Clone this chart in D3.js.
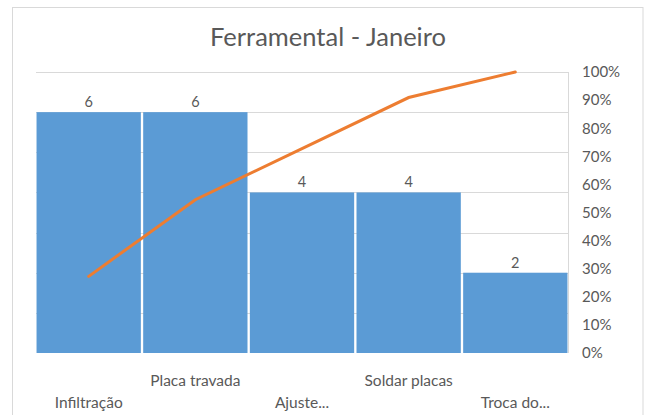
<!DOCTYPE html>
<html>
<head>
<meta charset="utf-8">
<script src="https://cdn.jsdelivr.net/npm/d3@7"></script>
<style>
  html, body { margin: 0; padding: 0; background: #fff; }
  svg { display: block; font-family: Lato, "Open Sans", sans-serif; }
</style>
</head>
<body>
<svg id="chart" width="646" height="415"></svg>
<script>
// Pareto data: occurrence counts per cause, sorted descending
const categories = ["Infiltração", "Placa travada", "Ajuste...", "Soldar placas", "Troca do..."];
const counts = [6, 6, 4, 4, 2];
const percentTicks = [0, 0.1, 0.2, 0.3, 0.4, 0.5, 0.6, 0.7, 0.8, 0.9, 1.0];
const countTicks = [1, 2, 3, 4, 5, 6, 7];
const title = "Ferramental - Janeiro";

const total = d3.sum(counts);
const cumulative = d3.cumsum(counts).map(v => v / total);

const svg = d3.select("#chart");
const W = 646, H = 415;
const plot = { left: 36, right: 568, top: 72, bottom: 353 };
const textColor = "#595959";

// chart frame
svg.append("rect")
  .attr("x", 12.5).attr("y", 7.5)
  .attr("width", 630.5).attr("height", H)
  .attr("fill", "#fff")
  .attr("stroke", "#d9d9d9").attr("stroke-width", 1);

const x = d3.scaleBand()
  .domain(categories)
  .range([plot.left, plot.right])
  .paddingInner(0.022)
  .paddingOuter(0.005);

const yCount = d3.scaleLinear().domain([0, 7]).range([plot.bottom, plot.top]);
const yPct = d3.scaleLinear().domain([0, 1]).range([plot.bottom, plot.top]);

// horizontal gridlines on the count scale
svg.append("g")
  .selectAll("line")
  .data(countTicks)
  .join("line")
  .attr("x1", plot.left).attr("x2", plot.right)
  .attr("y1", d => Math.round(yCount(d)) + 0.5)
  .attr("y2", d => Math.round(yCount(d)) + 0.5)
  .attr("stroke", "#d9d9d9").attr("stroke-width", 1);

// right axis line
svg.append("line")
  .attr("x1", plot.right + 0.5).attr("x2", plot.right + 0.5)
  .attr("y1", plot.top).attr("y2", plot.bottom)
  .attr("stroke", "#d9d9d9").attr("stroke-width", 1);

// bars
svg.append("g")
  .selectAll("rect")
  .data(counts)
  .join("rect")
  .attr("x", (d, i) => x(categories[i]))
  .attr("width", x.bandwidth())
  .attr("y", d => yCount(d))
  .attr("height", d => yCount(0) - yCount(d))
  .attr("fill", "#5b9bd5");

// value labels above bars
svg.append("g")
  .selectAll("text")
  .data(counts)
  .join("text")
  .attr("x", (d, i) => x(categories[i]) + x.bandwidth() / 2)
  .attr("y", d => yCount(d) - 5)
  .attr("text-anchor", "middle")
  .attr("font-size", 14.5)
  .attr("fill", textColor)
  .text(d => d);

// cumulative percentage line
const line = d3.line()
  .x((d, i) => x(categories[i]) + x.bandwidth() / 2)
  .y(d => yPct(d));

svg.append("path")
  .datum(cumulative)
  .attr("d", line)
  .attr("fill", "none")
  .attr("stroke", "#ed7d31")
  .attr("stroke-width", 3)
  .attr("stroke-linecap", "round");

// right percentage axis
const yAxis = d3.axisRight(yPct)
  .tickValues(percentTicks)
  .tickFormat(d3.format(".0%"))
  .tickSize(0)
  .tickPadding(14);

const ax = svg.append("g")
  .attr("transform", `translate(${plot.right},0)`)
  .call(yAxis);
ax.select(".domain").remove();
ax.selectAll("text")
  .attr("font-family", "Lato, 'Open Sans', sans-serif")
  .attr("font-size", 15)
  .attr("fill", textColor);

// category labels, staggered on two rows
const xAxis = d3.axisBottom(x).tickSize(0).tickPadding(0);
const bx = svg.append("g")
  .attr("transform", `translate(0,${plot.bottom})`)
  .call(xAxis);
bx.select(".domain").remove();
bx.selectAll("text")
  .attr("font-family", "Lato, 'Open Sans', sans-serif")
  .attr("font-size", 15.5)
  .attr("fill", textColor)
  .attr("dy", null)
  .attr("y", (d, i) => i % 2 === 0 ? 55 : 33);

// title
svg.append("text")
  .attr("x", 328)
  .attr("y", 46)
  .attr("text-anchor", "middle")
  .attr("font-size", 25.5)
  .attr("fill", textColor)
  .text(title);
</script>
</body>
</html>
